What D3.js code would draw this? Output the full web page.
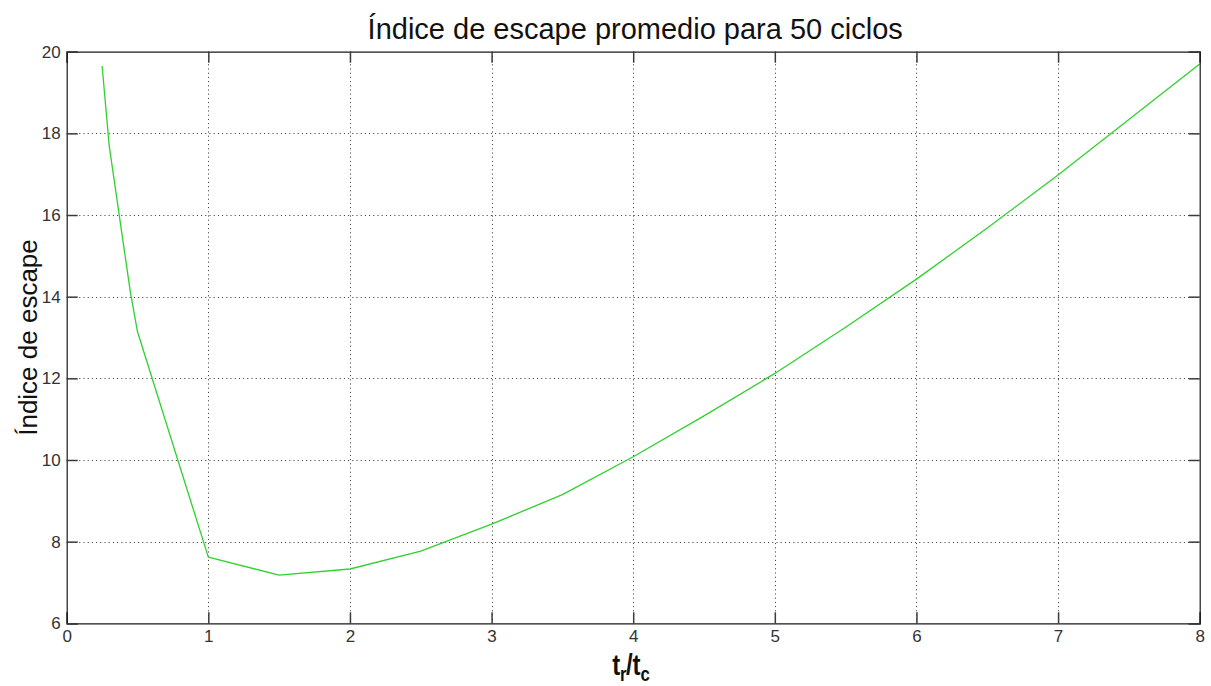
<!DOCTYPE html>
<html>
<head>
<meta charset="utf-8">
<script src="https://cdn.jsdelivr.net/npm/d3@7"></script>
<style>
  html, body { margin: 0; padding: 0; background: #fff; }
  svg { display: block; }
  text { font-family: "Liberation Sans", Arial, sans-serif; }
</style>
</head>
<body>
<svg id="chart" width="1211" height="686"></svg>
<script>
// Escape index averaged over 50 cycles, as a function of t_r/t_c
const ratio = [0.25, 0.3, 0.35, 0.4, 0.45, 0.5, 1, 1.5, 2, 2.5, 3, 3.5, 4, 4.5, 5, 5.5, 6, 6.5, 7, 7.5, 8];
const escapeIndex = [19.65, 17.7, 16.5, 15.3, 14.1, 13.14, 7.62, 7.18, 7.33, 7.77, 8.43, 9.15, 10.08, 11.08, 12.12, 13.25, 14.43, 15.68, 16.98, 18.34, 19.7];
const xTicks = [0, 1, 2, 3, 4, 5, 6, 7, 8];
const yTicks = [6, 8, 10, 12, 14, 16, 18, 20];
const titleText = "Índice de escape promedio para 50 ciclos";
const yLabelText = "Índice de escape";

const svg = d3.select("#chart");
const box = { left: 66.7, right: 1199.7, top: 51.7, bottom: 623.3 };

const x = d3.scaleLinear().domain([0, 8]).range([box.left, box.right]);
const y = d3.scaleLinear().domain([6, 20]).range([box.bottom, box.top]);

const tickColor = "#3a3a3a";
const tickLen = 11;

// dotted grid
const grid = svg.append("g").attr("stroke", "#000").attr("stroke-width", 1)
  .attr("stroke-dasharray", "1,3.2").attr("opacity", 0.8);
grid.selectAll("line.gx").data(xTicks.slice(1, -1)).join("line")
  .attr("x1", d => Math.round(x(d)) + 0.5).attr("x2", d => Math.round(x(d)) + 0.5)
  .attr("y1", box.top).attr("y2", box.bottom);
grid.selectAll("line.gy").data(yTicks.slice(1, -1)).join("line")
  .attr("x1", box.left).attr("x2", box.right)
  .attr("y1", d => Math.round(y(d)) + 0.5).attr("y2", d => Math.round(y(d)) + 0.5);

// data line
const line = d3.line().x((d, i) => x(ratio[i])).y(d => y(d));
svg.append("path").datum(escapeIndex)
  .attr("d", line)
  .attr("fill", "none")
  .attr("stroke", "#2fd12f")
  .attr("stroke-width", 1.3)
  .attr("stroke-linejoin", "round");

// axes with inward ticks on all four sides
const xAxisB = d3.axisBottom(x).tickValues(xTicks).tickSize(-tickLen).tickPadding(7).tickFormat(d3.format("d"));
const xAxisT = d3.axisTop(x).tickValues(xTicks).tickSize(-tickLen).tickFormat("");
const yAxisL = d3.axisLeft(y).tickValues(yTicks).tickSize(-tickLen).tickPadding(6).tickFormat(d3.format("d"));
const yAxisR = d3.axisRight(y).tickValues(yTicks).tickSize(-tickLen).tickFormat("");

function styleAxis(g) {
  g.select(".domain").attr("stroke", "#1a1a1a").attr("stroke-width", 1.2);
  g.selectAll(".tick line").attr("stroke", tickColor).attr("stroke-width", 1.5);
  g.selectAll(".tick text").attr("fill", "#333").style("font-size", "17px")
    .style("font-family", "'Liberation Sans', Arial, sans-serif");
}

svg.append("g").attr("transform", `translate(0,${box.bottom})`).call(xAxisB).call(styleAxis);
svg.append("g").attr("transform", `translate(0,${box.top})`).call(xAxisT).call(styleAxis);
svg.append("g").attr("transform", `translate(${box.left},0)`).call(yAxisL).call(styleAxis);
svg.append("g").attr("transform", `translate(${box.right},0)`).call(yAxisR).call(styleAxis);

// title
svg.append("text")
  .attr("x", (box.left + box.right) / 2 + 2).attr("y", 39)
  .attr("text-anchor", "middle")
  .attr("fill", "#111")
  .style("font-size", "29px")
  .text(titleText);

// y-axis label
svg.append("text")
  .attr("transform", `translate(37,${(box.top + box.bottom) / 2}) rotate(-90)`)
  .attr("text-anchor", "middle")
  .attr("fill", "#111")
  .style("font-size", "26px")
  .text(yLabelText);

// x-axis label t_r/t_c with subscripts, slightly condensed
const xlCx = 631;
const xl = svg.append("text")
  .attr("transform", `translate(${xlCx},675) scale(0.8,1)`)
  .attr("x", 0).attr("y", 0)
  .attr("text-anchor", "middle")
  .attr("fill", "#111")
  .style("font-size", "30px")
  .style("font-weight", "bold");
xl.append("tspan").text("t");
xl.append("tspan").attr("dy", 6).style("font-size", "21px").text("r");
xl.append("tspan").attr("dy", -6).attr("dx", -1).text("/t");
xl.append("tspan").attr("dy", 6).style("font-size", "21px").text("c");
</script>
</body>
</html>
